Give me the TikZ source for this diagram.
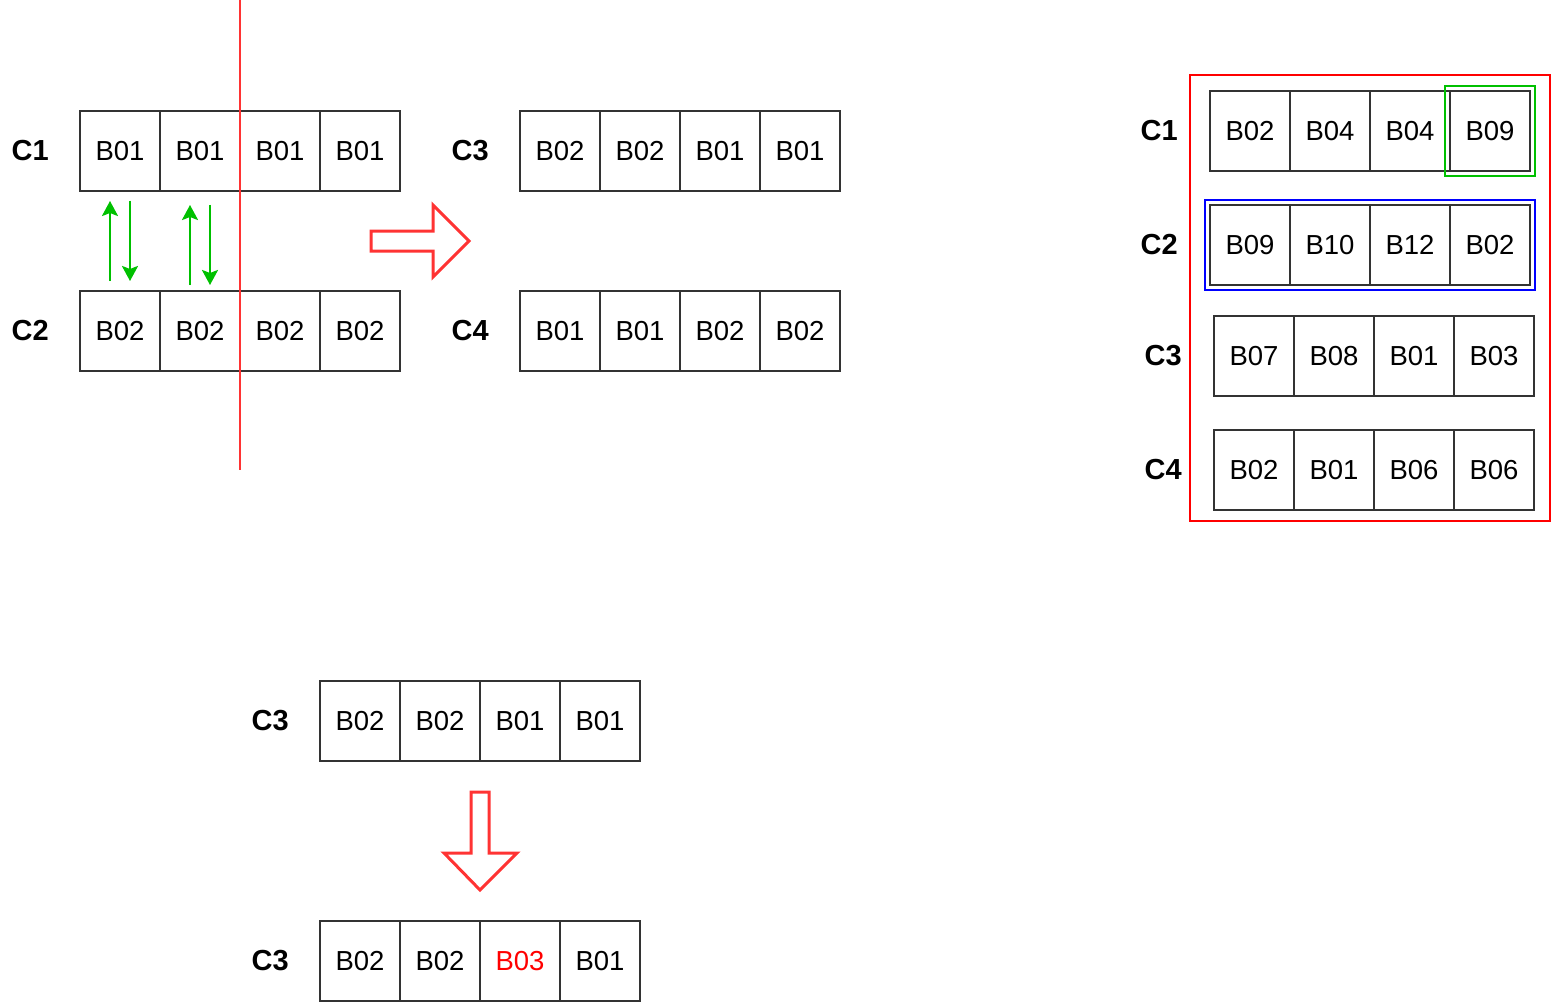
\documentclass[tikz,border=0pt]{standalone}
\usepackage{fontspec}
\setmainfont{Liberation Sans}
\usetikzlibrary{%
	arrows.meta,%
	positioning,%
	fit,%
}
\definecolor{cred}{RGB}{255, 51, 51}
\definecolor{cgreen}{RGB}{0, 192, 0}
\tikzset{
	>={Stealth[length=15pt 0 0,width=16pt 0 0,inset=3pt 0]},%
	cell/.style={%
			draw=black!80,%
			line width=2pt,%
			minimum size=80pt,%
			inner sep=0,%
			outer sep=0,%
			font=\fontsize{27.5}{32}\selectfont},%
	rowlabel/.style={%
			inner sep=0,%
			font=\fontsize{29}{34}\selectfont\bfseries},%
	swaparrow/.style={->, draw=cgreen, fill=cgreen, line width=2.5pt},%
	hollowarrow/.style={draw=cred, line width=3pt, line join=miter, fill=white},%
	cutline/.style={draw=cred, line width=2.5pt},%
	pickbox/.style={draw=cgreen, line width=2.5pt, inner sep=5pt},%
	rowbox/.style={draw=blue, line width=2.5pt, inner sep=5pt},%
	popbox/.style={draw=red, line width=2.5pt},%
}
% one chromosome: name, left x, centre y, genes
\newcommand{\cellrow}[4]{%
	\foreach \gene [count=\i] in {#4} {
		\node[cell] (#1-\i) at ({#2+80*\i-40},#3) {\gene};
	}}

\begin{document}
\begin{tikzpicture}[x=1pt, y=-1pt]%
	\useasboundingbox (0,0) rectangle (1552,1003);

	% crossover
	\cellrow{l1}{80}{151}{B01,B01,B01,B01}
	\cellrow{l2}{80}{331}{B02,B02,B02,B02}
	\node[rowlabel, left=31pt of l1-1] (lc1) {C1};
	\node[rowlabel, left=31pt of l2-1] (lc2) {C2};

	\draw[swaparrow, shorten <=10pt, shorten >=10pt] ([xshift=-10pt]l2-1.north) -- ([xshift=-10pt]l1-1.south);
	\draw[swaparrow, shorten <=10pt, shorten >=10pt] ([xshift=10pt]l1-1.south) -- ([xshift=10pt]l2-1.north);
	\draw[swaparrow, shorten <=6pt, shorten >=14pt] ([xshift=-10pt]l2-2.north) -- ([xshift=-10pt]l1-2.south);
	\draw[swaparrow, shorten <=14pt, shorten >=6pt] ([xshift=10pt]l1-2.south) -- ([xshift=10pt]l2-2.north);

	\draw[cutline] (240,0) -- (240,470);

	\draw[hollowarrow] (371,231) -- (433,231) -- (433,205) -- (469,241) -- (433,277) -- (433,251) -- (371,251) -- cycle;

	\cellrow{m3}{520}{151}{B02,B02,B01,B01}
	\cellrow{m4}{520}{331}{B01,B01,B02,B02}
	\node[rowlabel, left=31pt of m3-1] (mc3) {C3};
	\node[rowlabel, left=31pt of m4-1] (mc4) {C4};

	% mutation
	\cellrow{b3}{320}{721}{B02,B02,B01,B01}
	\cellrow{b5}{320}{961}{B02,B02,\textcolor{red}{B03},B01}
	\node[rowlabel, left=31pt of b3-1] (bc3) {C3};
	\node[rowlabel, left=31pt of b5-1] (bc5) {C3};

	\draw[hollowarrow] (471,792) -- (489,792) -- (489,853) -- (517,853) -- (480,890) -- (444,853) -- (471,853) -- cycle;

	% population
	\draw[popbox] (1190,75) rectangle (1550,521);
	\cellrow{r1}{1210}{131}{B02,B04,B04,B09}
	\cellrow{r2}{1210}{245}{B09,B10,B12,B02}
	\cellrow{r3}{1214}{356}{B07,B08,B01,B03}
	\cellrow{r4}{1214}{470}{B02,B01,B06,B06}
	\node[rowlabel, left=32pt of r1-1] (rc1) {C1};
	\node[rowlabel, left=32pt of r2-1] (rc2) {C2};
	\node[rowlabel, left=32pt of r3-1] (rc3) {C3};
	\node[rowlabel, left=32pt of r4-1] (rc4) {C4};

	\node[pickbox, fit=(r1-4)] (best) {};
	\node[rowbox, fit=(r2-1)(r2-4)] (chosen) {};
\end{tikzpicture}
\end{document}
